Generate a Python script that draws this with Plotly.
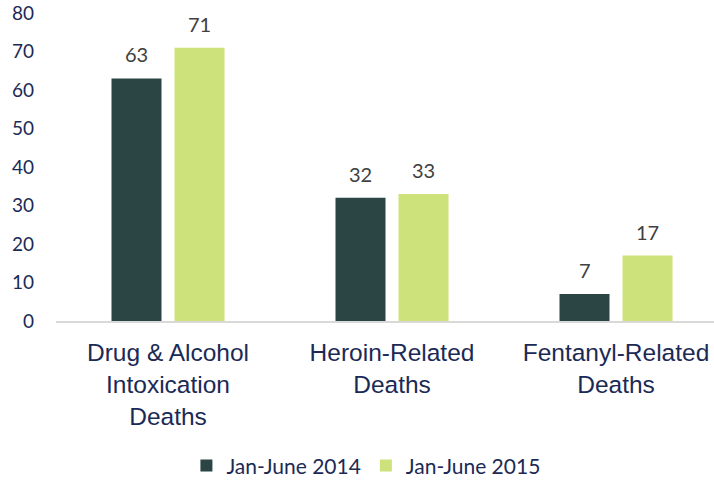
import plotly.graph_objects as go

categories = ["Drug & Alcohol<br>Intoxication<br>Deaths", "Heroin-Related<br>Deaths", "Fentanyl-Related<br>Deaths"]
series_names = ["Jan-June 2014", "Jan-June 2015"]
values_2014 = [63, 32, 7]
values_2015 = [71, 33, 17]
y_ticks = [0, 10, 20, 30, 40, 50, 60, 70, 80]

colors = ["#2B4545", "#CDE27A"]
navy = "#1B2A55"

fig = go.Figure()
for name, vals, col in zip(series_names, [values_2014, values_2015], colors):
    fig.add_trace(go.Bar(x=categories, y=vals, name=name, marker=dict(color=col, line=dict(width=0))))

annotations = []
for vals, shift in zip([values_2014, values_2015], [-31.5, 31.5]):
    for c, v in zip(categories, vals):
        annotations.append(dict(x=c, y=v, xref="x", yref="y", text=str(v), showarrow=False,
                                xshift=shift, yanchor="bottom", yshift=10,
                                font=dict(family="Lato", size=20, color="#404040")))

fig.update_layout(
    width=714, height=480,
    margin=dict(l=56, r=0, t=13, b=159, autoexpand=False),
    plot_bgcolor="white", paper_bgcolor="white",
    barmode="group", bargap=0.4375, bargroupgap=0.206,
    showlegend=True,
    legend=dict(orientation="h", x=0.471, xanchor="center", y=-0.47, yanchor="middle",
                font=dict(family="Lato", size=21, color=navy), itemwidth=30),
    annotations=annotations,
    xaxis=dict(range=[-0.5, 2.4375], showline=True, linecolor="#D9D9D9", linewidth=1.5,
               ticks="", tickfont=dict(family="Liberation Sans", size=24.5, color=navy),
               ticklabelstandoff=9,
               showgrid=False, fixedrange=True, automargin=False),
    yaxis=dict(range=[0, 80], tickvals=y_ticks, showgrid=False, zeroline=False, ticks="",
               tickfont=dict(family="Lato", size=19, color=navy), ticklabelstandoff=21,
               automargin=False),
)

fig.write_html("out.html", config={"displayModeBar": False},
               post_script="document.body.style.margin='0px';document.body.style.overflow='hidden';")
